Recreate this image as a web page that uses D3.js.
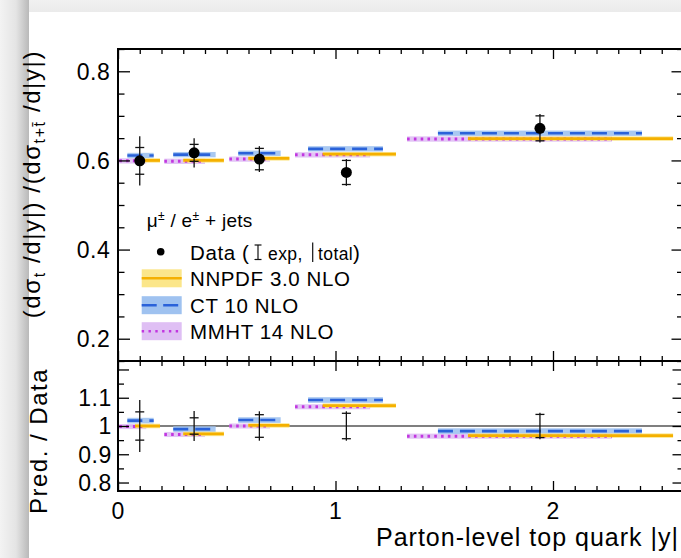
<!DOCTYPE html>
<html><head><meta charset="utf-8">
<script src="https://cdn.jsdelivr.net/npm/d3@7"></script>
<style>
html,body{margin:0;padding:0;background:#fff;overflow:hidden;}
svg{display:block;font-family:"Liberation Sans",Arial,Helvetica,sans-serif;}
</style></head><body>
<svg id="c" width="681" height="558"></svg>
<script>
// ---------------- data ----------------
const binEdges = [0, 0.25, 0.5, 0.8, 1.3, 2.6];
const dataX   = [0.10, 0.35, 0.65, 1.05, 1.94];
const dataY   = [0.599, 0.617, 0.603, 0.573, 0.672];
const dataExp = [0.030, 0.019, 0.024, 0.027, 0.028];
const dataTot = [0.055, 0.033, 0.029, 0.030, 0.032];
const ratioExp = [0.050, 0.029, 0.040, 0.045, 0.041];
const ratioTot = [0.092, 0.053, 0.052, 0.052, 0.047];

const nnpdfY = [0.600, 0.600, 0.6045, 0.614, 0.649];
const ct10Y  = [0.611, 0.613, 0.616, 0.626, 0.661];
const mmhtY  = [0.599, 0.598, 0.603, 0.6125, 0.648];
const nnpdfRatio = [1.000, 0.972, 1.002, 1.072, 0.966];
const ct10Ratio  = [1.019, 0.989, 1.021, 1.092, 0.982];
const mmhtRatio  = [0.998, 0.970, 1.000, 1.068, 0.964];

const nnpdfLo = [0.078, 0.300, 0.599, 0.941, 1.609];
const nnpdfHi = [0.193, 0.487, 0.788, 1.278, 2.552];
const ct10Lo  = [0.043, 0.254, 0.553, 0.874, 1.471];
const ct10Hi  = [0.164, 0.449, 0.748, 1.218, 2.409];
const mmhtLo  = [0.006, 0.213, 0.512, 0.814, 1.329];
const mmhtHi  = [0.130, 0.400, 0.699, 1.159, 2.271];

const bandTop   = {nnpdf: 0.005, ct10: 0.006, mmht: 0.006};
const bandRatio = {nnpdf: 0.008, ct10: 0.010, mmht: 0.009};

const xTickMajor = [0, 1, 2];
const xTickLabels = ["0", "1", "2"];
const yTopMajor = [0.2, 0.4, 0.6, 0.8];
const yTopLabels = ["0.2", "0.4", "0.6", "0.8"];
const yBotMajor = [0.8, 0.9, 1.0, 1.1, 1.2];
const yBotLabelVals = [0.8, 0.9, 1.0, 1.1];
const yBotLabels = ["0.8", "0.9", "1", "1.1"];

// ---------------- styles ----------------
const C = {
  nnLine: "#f5b000", nnBand: "#fbe68a",
  ctLine: "#2a62d9", ctBand: "#9fc2f0",
  mmLine: "#c236e0", mmBand: "#dfbff4"
};

const svg = d3.select("#c");
const defs = svg.append("defs");
const gl = defs.append("linearGradient").attr("id","gl").attr("x1",0).attr("x2",1).attr("y1",0).attr("y2",0);
gl.append("stop").attr("offset","0").attr("stop-color","#f3f3f3");
gl.append("stop").attr("offset","0.55").attr("stop-color","#e4e4e4");
gl.append("stop").attr("offset","1").attr("stop-color","#b9b9b9");
const gt = defs.append("linearGradient").attr("id","gt").attr("x1",0).attr("x2",0).attr("y1",0).attr("y2",1);
gt.append("stop").attr("offset","0").attr("stop-color","#f1f1f1");
gt.append("stop").attr("offset","1").attr("stop-color","#ebebeb");

svg.append("rect").attr("width",681).attr("height",558).attr("fill","#fff");
svg.append("rect").attr("x",0).attr("y",0).attr("width",681).attr("height",12).attr("fill","url(#gt)");
svg.append("rect").attr("x",0).attr("y",0).attr("width",29).attr("height",558).attr("fill","url(#gl)");

// ---------------- scales ----------------
const x  = d3.scaleLinear().domain([0, 2.6]).range([118, 683.5]);
const yT = d3.scaleLinear().domain([0.15, 0.85]).range([361, 49]);
const yB = d3.scaleLinear().domain([0.77, 1.23]).range([491, 361]);

const xMinor = d3.range(0, 27).map(i => i/10).filter(v => Math.abs(v - Math.round(v)) > 1e-6);
const yTopMinor = d3.range(3, 18).map(i => i*0.05).filter(v => !yTopMajor.some(m => Math.abs(m-v)<1e-6));
const yBotMinor = d3.range(16, 25).map(i => i*0.05).filter(v => !yBotMajor.some(m => Math.abs(m-v)<1e-6));

function tickAxis(axisFn, scale, vals, size, tx, ty) {
  const g = svg.append("g").attr("transform", `translate(${tx},${ty})`)
    .call(axisFn(scale).tickValues(vals).tickSize(-size).tickFormat(""));
  g.select(".domain").remove();
  g.selectAll("line").attr("stroke","#000").attr("stroke-width",1.3);
  return g;
}

// ---------------- bottom panel reference line ----------------
svg.append("line").attr("x1", x(0)).attr("x2", x(2.6)).attr("y1", yB(1)).attr("y2", yB(1))
  .attr("stroke","#555").attr("stroke-width",1.3);

// ---------------- predictions ----------------
const series = [
  {key:"mmht", lo:mmhtLo, hi:mmhtHi, top:mmhtY, rat:mmhtRatio, band:C.mmBand, line:C.mmLine, dash:"2.6,4.2", w:3},
  {key:"ct10", lo:ct10Lo, hi:ct10Hi, top:ct10Y, rat:ct10Ratio, band:C.ctBand, line:C.ctLine, dash:"15,7", w:2.6},
  {key:"nnpdf", lo:nnpdfLo, hi:nnpdfHi, top:nnpdfY, rat:nnpdfRatio, band:C.nnBand, line:C.nnLine, dash:null, w:2.8}
];

function drawBands(y, valKey, bandW) {
  series.forEach(s => {
    svg.append("g").selectAll("rect").data(d3.range(5)).join("rect")
      .attr("x", i => x(s.lo[i])).attr("width", i => x(s.hi[i]) - x(s.lo[i]))
      .attr("y", i => y(s[valKey][i] + bandW[s.key]))
      .attr("height", i => y(s[valKey][i] - bandW[s.key]) - y(s[valKey][i] + bandW[s.key]))
      .attr("fill", s.band).attr("opacity", 0.9);
  });
  series.forEach(s => {
    svg.append("g").selectAll("line").data(d3.range(5)).join("line")
      .attr("x1", i => x(s.lo[i])).attr("x2", i => x(s.hi[i]))
      .attr("y1", i => y(s[valKey][i])).attr("y2", i => y(s[valKey][i]))
      .attr("stroke", s.line).attr("stroke-width", s.w)
      .attr("stroke-dasharray", s.dash);
  });
}
drawBands(yT, "top", bandTop);
drawBands(yB, "rat", bandRatio);

// ---------------- data error bars ----------------
function errBars(y, cen, exp, tot) {
  const g = svg.append("g");
  g.selectAll("line.t").data(d3.range(5)).join("line").attr("class","t")
    .attr("x1", i => x(dataX[i])).attr("x2", i => x(dataX[i]))
    .attr("y1", i => y(cen(i) + tot[i])).attr("y2", i => y(cen(i) - tot[i]))
    .attr("stroke","#111").attr("stroke-width",1.3);
  [1,-1].forEach(sg => {
    g.selectAll("line.c"+(sg>0?"u":"d")).data(d3.range(5)).join("line").attr("class","c"+(sg>0?"u":"d"))
      .attr("x1", i => x(dataX[i]) - 4.5).attr("x2", i => x(dataX[i]) + 4.5)
      .attr("y1", i => y(cen(i) + sg*exp[i])).attr("y2", i => y(cen(i) + sg*exp[i]))
      .attr("stroke","#111").attr("stroke-width",1.3);
  });
  return g;
}
errBars(yT, i => dataY[i], dataExp, dataTot);
errBars(yB, i => 1, ratioExp, ratioTot);
svg.append("g").selectAll("circle").data(d3.range(5)).join("circle")
  .attr("cx", i => x(dataX[i])).attr("cy", i => yT(dataY[i])).attr("r", 5.5).attr("fill","#000");

// ---------------- frames & ticks ----------------
tickAxis(d3.axisTop, x, xTickMajor, 10, 0, 49);
tickAxis(d3.axisTop, x, xMinor, 5, 0, 49);
tickAxis(d3.axisBottom, x, xTickMajor, 10, 0, 361);
tickAxis(d3.axisBottom, x, xMinor, 5, 0, 361);
tickAxis(d3.axisLeft, yT, yTopMajor, 12, 118, 0);
tickAxis(d3.axisLeft, yT, yTopMinor, 6.5, 118, 0);
tickAxis(d3.axisRight, yT, yTopMajor, 12, 683.5, 0);
tickAxis(d3.axisRight, yT, yTopMinor, 6.5, 683.5, 0);
tickAxis(d3.axisTop, x, xTickMajor, 10, 0, 361);
tickAxis(d3.axisTop, x, xMinor, 5, 0, 361);
tickAxis(d3.axisBottom, x, xTickMajor, 10, 0, 491);
tickAxis(d3.axisBottom, x, xMinor, 5, 0, 491);
tickAxis(d3.axisLeft, yB, yBotMajor, 11, 118, 0);
tickAxis(d3.axisLeft, yB, yBotMinor, 6, 118, 0);
tickAxis(d3.axisRight, yB, yBotMajor, 11, 683.5, 0);
tickAxis(d3.axisRight, yB, yBotMinor, 6, 683.5, 0);

svg.append("rect").attr("x", x(0)).attr("y", yT(0.85)).attr("width", x(2.6)-x(0)).attr("height", yT(0.15)-yT(0.85))
  .attr("fill","none").attr("stroke","#000").attr("stroke-width",2);
svg.append("rect").attr("x", x(0)).attr("y", yB(1.23)).attr("width", x(2.6)-x(0)).attr("height", yB(0.77)-yB(1.23))
  .attr("fill","none").attr("stroke","#000").attr("stroke-width",2);

// ---------------- tick labels ----------------
svg.append("g").selectAll("text").data(yTopMajor).join("text")
  .attr("x", 110.5).attr("y", v => yT(v) + 8.3).attr("text-anchor","end")
  .attr("font-size", 23).attr("letter-spacing", 0.6).text((v,i) => yTopLabels[i]);
svg.append("g").selectAll("text").data(yBotLabelVals).join("text")
  .attr("x", 112).attr("y", v => yB(v) + 8.3).attr("text-anchor","end")
  .attr("font-size", 23).attr("letter-spacing", 0.6).text((v,i) => yBotLabels[i]);
svg.append("g").selectAll("text").data(xTickMajor).join("text")
  .attr("x", v => x(v)).attr("y", 519).attr("text-anchor","middle")
  .attr("font-size", 23).text((v,i) => xTickLabels[i]);

// ---------------- axis titles ----------------
svg.append("text").attr("x", 376).attr("y", 546).attr("font-size", 25).attr("letter-spacing", 1)
  .text("Parton-level top quark |y|");

const yt = svg.append("text").attr("transform","translate(40,50) rotate(-90)")
  .attr("text-anchor","end").attr("font-size", 24).attr("letter-spacing", 1.6);
yt.append("tspan").text("(dσ");
yt.append("tspan").attr("font-size",16).attr("dy",5).text("t");
yt.append("tspan").attr("dy",-5).text(" /d|y|) /(dσ");
yt.append("tspan").attr("font-size",16).attr("dy",5).text("t+t\u0304");
yt.append("tspan").attr("dy",-5).text(" /d|y|)");

svg.append("text").attr("transform","translate(47,368) rotate(-90)")
  .attr("text-anchor","end").attr("font-size", 24).attr("letter-spacing", 1.5).text("Pred. / Data");

// ---------------- legend ----------------
const lg = svg.append("g");
const hdr = lg.append("text").attr("x",146.7).attr("y",227).attr("font-size",19).attr("letter-spacing",0.3);
hdr.append("tspan").text("μ");
hdr.append("tspan").attr("font-size",12).attr("dy",-7).text("±");
hdr.append("tspan").attr("dy",7).text(" / e");
hdr.append("tspan").attr("font-size",12).attr("dy",-7).text("±");
hdr.append("tspan").attr("dy",7).text(" + jets");

lg.append("circle").attr("cx",160.7).attr("cy",251.7).attr("r",3.8).attr("fill","#000");
lg.append("text").attr("x",190).attr("y",259.5).attr("font-size",20.5).attr("letter-spacing",0.6).text("Data (");
lg.append("line").attr("x1",258).attr("x2",258).attr("y1",245).attr("y2",259.5).attr("stroke","#111").attr("stroke-width",1.2);
lg.append("line").attr("x1",254.5).attr("x2",261.5).attr("y1",245).attr("y2",245).attr("stroke","#111").attr("stroke-width",1.2);
lg.append("line").attr("x1",254.5).attr("x2",261.5).attr("y1",259.5).attr("y2",259.5).attr("stroke","#111").attr("stroke-width",1.2);
lg.append("text").attr("x",268).attr("y",259.5).attr("font-size",17.5).attr("letter-spacing",0.4).text("exp,");
lg.append("line").attr("x1",312.7).attr("x2",312.7).attr("y1",242.5).attr("y2",262).attr("stroke","#111").attr("stroke-width",1.2);
const tt = lg.append("text").attr("x",318).attr("y",259.5).attr("font-size",17.5).attr("letter-spacing",0.4);
tt.append("tspan").text("total");
tt.append("tspan").attr("font-size",20.5).text(")");

const legItems = [
  {label:"NNPDF 3.0 NLO", band:C.nnBand, line:C.nnLine, dash:null, w:2.6, cy:278.3},
  {label:"CT 10 NLO", band:C.ctBand, line:C.ctLine, dash:"15,6.5", w:2.4, cy:305.2},
  {label:"MMHT 14 NLO", band:C.mmBand, line:C.mmLine, dash:"2.4,4.4", w:2.6, cy:331.2}
];
legItems.forEach(d => {
  lg.append("rect").attr("x",141.7).attr("y",d.cy-9).attr("width",40).attr("height",18).attr("fill",d.band);
  lg.append("line").attr("x1",141.7).attr("x2",181.7).attr("y1",d.cy).attr("y2",d.cy)
    .attr("stroke",d.line).attr("stroke-width",d.w).attr("stroke-dasharray",d.dash);
  lg.append("text").attr("x",190).attr("y",d.cy+7.3).attr("font-size",20.5).attr("letter-spacing",0.6).text(d.label);
});
</script>
</body></html>
